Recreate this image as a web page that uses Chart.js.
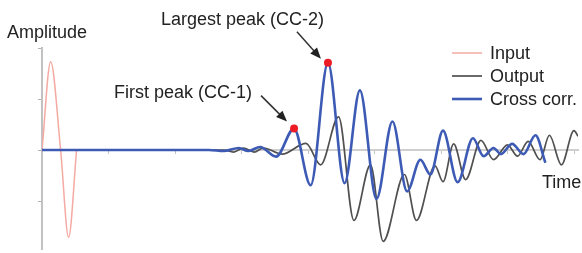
<!DOCTYPE html>
<html>
<head>
<meta charset="utf-8">
<script src="https://cdn.jsdelivr.net/npm/chart.js@4.4.1/dist/chart.umd.min.js"></script>
<style>
  body { margin: 0; background: #fff; }
  canvas { display: block; }
</style>
</head>
<body>
<canvas id="ccChart" width="582" height="253"></canvas>
<script>
// time axis (arbitrary units) and amplitude values
const inputT = [0, 0.13, 0.28, 0.40, 0.52];
const inputA = [0, 1.73, 0, -1.71, 0];

const outputT = [0, 2.73, 2.88, 3.03, 3.19, 3.33, 3.61, 3.97, 4.19, 4.46, 4.69, 4.94, 5.13, 5.45, 5.63,
                 5.91, 6.03, 6.19, 6.37, 6.60, 6.79, 7.00, 7.15, 7.31, 7.49, 7.63, 7.81, 8.00, 8.06];
const outputA = [0, 0, -0.04, 0.04, -0.04, 0.04, -0.08, 0.13, -0.29, 0.65, -1.38, -0.29, -1.79, -0.48, -1.38,
                 -0.31, -0.62, 0.12, -0.58, 0.19, -0.19, 0.10, -0.12, 0.17, -0.19, 0.29, -0.29, 0.38, 0.27];

const corrT = [0, 2.51, 2.73, 2.96, 3.10, 3.28, 3.52, 3.79, 4.04, 4.30, 4.55, 4.78, 5.03, 5.27, 5.49,
               5.69, 5.84, 6.03, 6.25, 6.48, 6.64, 6.79, 6.90, 7.07, 7.24, 7.42, 7.57];
const corrA = [0, 0, -0.02, 0.04, -0.02, 0.06, -0.13, 0.42, -0.69, 1.71, -0.65, 1.17, -0.96, 0.56, -0.81,
               -0.19, -0.48, 0.38, -0.63, 0.23, -0.12, 0.04, -0.08, 0.12, -0.08, 0.29, -0.25];

// CC-1 and CC-2 markers
const peakT = [3.79, 4.30];
const peakA = [0.42, 1.71];

const xTicks = [0, 1, 2, 3, 4, 5, 6, 7, 8];
const yTicks = [-1, 0, 1, 2];

function pts(t, a) {
    const out = [];
    for (var i = 0; i < t.length; i++) {
        out.push({x: t[i], y: a[i]});
    }
    return out;
}

const FONT = '18px "Liberation Sans", Arial, sans-serif';
const TEXT = '#222';

function arrow(ctx, x1, y1, x2, y2) {
    const ang = Math.atan2(y2 - y1, x2 - x1);
    ctx.strokeStyle = '#333';
    ctx.fillStyle = '#222';
    ctx.lineWidth = 1.5;
    ctx.beginPath();
    ctx.moveTo(x1, y1);
    ctx.lineTo(x2 - 6 * Math.cos(ang), y2 - 6 * Math.sin(ang));
    ctx.stroke();
    ctx.beginPath();
    ctx.moveTo(x2, y2);
    ctx.lineTo(x2 - 11 * Math.cos(ang) + 4.5 * Math.sin(ang), y2 - 11 * Math.sin(ang) - 4.5 * Math.cos(ang));
    ctx.lineTo(x2 - 11 * Math.cos(ang) - 4.5 * Math.sin(ang), y2 - 11 * Math.sin(ang) + 4.5 * Math.cos(ang));
    ctx.closePath();
    ctx.fill();
}

const annotations = {
    id: 'annotations',
    afterDraw(chart) {
        const ctx = chart.ctx;
        const xs = chart.scales.x, ys = chart.scales.y;
        ctx.save();
        ctx.font = FONT;
        ctx.fillStyle = TEXT;
        ctx.textBaseline = 'alphabetic';
        ctx.textAlign = 'left';
        ctx.fillText('Amplitude', 7, 38);
        ctx.fillText('Time', 542, 188);

        // labels + arrows pointing at the two peaks
        const p1x = xs.getPixelForValue(peakT[0]), p1y = ys.getPixelForValue(peakA[0]);
        const p2x = xs.getPixelForValue(peakT[1]), p2y = ys.getPixelForValue(peakA[1]);
        ctx.fillText('First peak (CC-1)', 114, 98);
        ctx.fillText('Largest peak (CC-2)', 161, 25);
        arrow(ctx, p1x - 33, p1y - 33, p1x - 7, p1y - 7);
        arrow(ctx, p2x - 31, p2y - 31, p2x - 7, p2y - 4);

        // legend
        const items = chart.data.datasets.filter(d => d.label);
        const order = ['Input', 'Output', 'Cross corr.'];
        order.forEach((name, i) => {
            const ds = items.find(d => d.label === name);
            const y = 53 + i * 23;
            ctx.strokeStyle = ds.borderColor;
            ctx.lineWidth = ds.borderWidth;
            ctx.beginPath();
            ctx.moveTo(452, y);
            ctx.lineTo(482, y);
            ctx.stroke();
            ctx.fillStyle = TEXT;
            ctx.textBaseline = 'middle';
            ctx.fillText(name, 490, y + 1);
        });
        ctx.restore();
    }
};

const ctx = document.getElementById('ccChart');
const chart = new Chart(ctx, {
    type: 'scatter',
    data: {
        datasets: [
            {
                data: pts(peakT, peakA),
                pointRadius: 4,
                pointBackgroundColor: '#ee1c25',
                pointBorderWidth: 0,
                showLine: false
            },
            {
                label: 'Cross corr.',
                data: pts(corrT, corrA),
                borderColor: '#3d5bb5',
                borderWidth: 2.6,
                pointRadius: 0,
                showLine: true,
                cubicInterpolationMode: 'monotone'
            },
            {
                label: 'Output',
                data: pts(outputT, outputA),
                borderColor: '#505050',
                borderWidth: 1.7,
                pointRadius: 0,
                showLine: true,
                cubicInterpolationMode: 'monotone'
            },
            {
                label: 'Input',
                data: pts(inputT, inputA),
                borderColor: '#f4aaa2',
                borderWidth: 1.5,
                pointRadius: 0,
                showLine: true,
                cubicInterpolationMode: 'monotone'
            }
        ]
    },
    options: {
        responsive: false,
        animation: false,
        events: [],
        layout: { padding: { left: 42, top: 48, right: 0, bottom: 0 } },
        plugins: {
            legend: { display: false },
            tooltip: { enabled: false }
        },
        scales: {
            x: {
                type: 'linear',
                position: { y: 0 },
                min: 0,
                max: 8.06,
                afterBuildTicks: s => { s.ticks = xTicks.map(v => ({value: v})); },
                ticks: { display: false },
                grid: { display: true, drawOnChartArea: false, drawTicks: true, tickLength: 3, color: '#c4c4c4' },
                border: { display: true, color: '#cfcfcf', width: 2 }
            },
            y: {
                type: 'linear',
                position: { x: 0 },
                min: -1.94,
                max: 2,
                afterBuildTicks: s => { s.ticks = yTicks.map(v => ({value: v})); },
                ticks: { display: false },
                grid: { display: true, drawOnChartArea: false, drawTicks: true, tickLength: 3, color: '#b0b0b0' },
                border: { display: true, color: '#c2c2c2', width: 2 }
            }
        }
    },
    plugins: [annotations]
});
</script>
</body>
</html>
